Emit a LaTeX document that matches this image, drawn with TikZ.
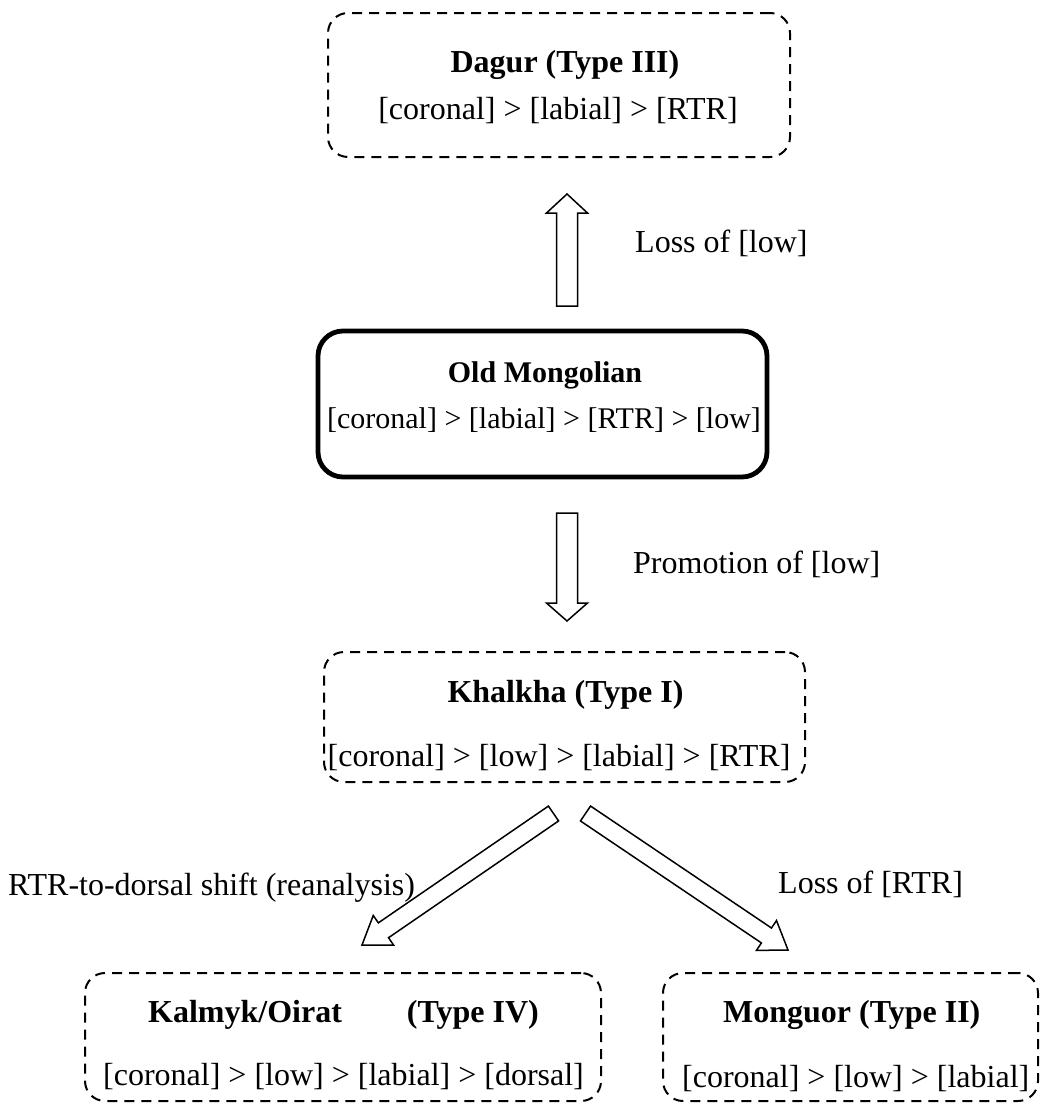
\documentclass[tikz,border=0pt]{standalone}
\usepackage{fontspec}
\setmainfont{Liberation Serif}
\usetikzlibrary{calc}
\tikzset{
  dbox/.style={draw, line width=2pt, dash pattern=on 10pt off 7pt, rounded corners=20pt, inner sep=0pt},
  tbox/.style={draw, line width=4.8pt, rounded corners=25pt, inner sep=0pt},
  ttl/.style={font=\fontsize{32}{38}\selectfont\bfseries, anchor=base, inner sep=0pt},
  txt/.style={font=\fontsize{32}{38}\selectfont, anchor=base, inner sep=0pt},
  ttlw/.style={ttl, anchor=base west},
  txtw/.style={txt, anchor=base west},
  lbl/.style={font=\fontsize{32}{38}\selectfont, anchor=base west, inner sep=0pt},
  barrow/.style={draw, line width=1.5pt, fill=white, line join=miter},
}
% #1 tail, #2 tip, #3 shaft half width, #4 head half width, #5 head length
\newcommand\blockarrow[5]{%
  \path ($(#2)!#5!(#1)$) coordinate (ba-h);
  \draw[barrow] ($(#1)!#3!90:(#2)$) -- ($(ba-h)!#3!90:(#2)$) -- ($(ba-h)!#4!90:(#2)$)
    -- (#2) -- ($(ba-h)!#4!-90:(#2)$) -- ($(ba-h)!#3!-90:(#2)$) -- ($(#1)!#3!-90:(#2)$) -- cycle;
}
\begin{document}
\begin{tikzpicture}[x=1pt,y=-1pt]
\useasboundingbox (0,0) rectangle (1040,1106);

% boxes
\node[dbox, minimum width=462pt, minimum height=144pt] (dagur) at (559,85) {};
\node[ttl] (dagurT) at (565,72) {Dagur (Type III)};
\node[txt] (dagurL) at (558,119) {[coronal] > [labial] > [RTR]};

\node[tbox, minimum width=449pt, minimum height=146pt] (oldm) at (542.5,404) {};
\node[ttl, font=\fontsize{30}{36}\selectfont\bfseries] (oldmT) at (545,382) {Old Mongolian};
\node[txt, font=\fontsize{30}{36}\selectfont] (oldmL) at (544,428) {[coronal] > [labial] > [RTR] > [low]};

\node[dbox, minimum width=481pt, minimum height=130pt] (khal) at (564.5,717) {};
\node[ttl] (khalT) at (565.5,702) {Khalkha (Type I)};
\node[txt] (khalL) at (559,766) {[coronal] > [low] > [labial] > [RTR]};

\node[dbox, minimum width=516pt, minimum height=128pt] (kalm) at (343,1037) {};
\node[ttlw] (kalmT) at (148,1022) {Kalmyk/Oirat\hspace{65pt}(Type IV)};
\node[txtw] (kalmL) at (103,1085) {[coronal] > [low] > [labial] > [dorsal]};

\node[dbox, minimum width=375pt, minimum height=128pt] (mong) at (850.5,1037) {};
\node[ttlw] (mongT) at (723,1022) {Monguor (Type II)};
\node[txtw] (mongL) at (682,1087) {[coronal] > [low] > [labial]};

% arrow end points
\coordinate (upTail) at (567,306);
\coordinate (upTip) at (567,194);
\coordinate (dnTail) at (567,513);
\coordinate (dnTip) at (567,621);
\coordinate (lTail) at (553.5,813.5);
\coordinate (lTip) at (362,945);
\coordinate (rTail) at (585.5,813.5);
\coordinate (rTip) at (788,950);

\blockarrow{upTail}{upTip}{10.5pt}{20.5pt}{19pt}
\blockarrow{dnTail}{dnTip}{10.5pt}{20.5pt}{18pt}
\blockarrow{lTail}{lTip}{9pt}{18pt}{26pt}
\blockarrow{rTail}{rTip}{9pt}{18pt}{26pt}

% labels
\node[lbl] (lossLow) at (635,252) {Loss of [low]};
\node[lbl] (promo) at (633,573) {Promotion of [low]};
\node[lbl] (rtrdors) at (8,895) {RTR-to-dorsal shift (reanalysis)};
\node[lbl] (lossRTR) at (778,893) {Loss of [RTR]};
\end{tikzpicture}
\end{document}
